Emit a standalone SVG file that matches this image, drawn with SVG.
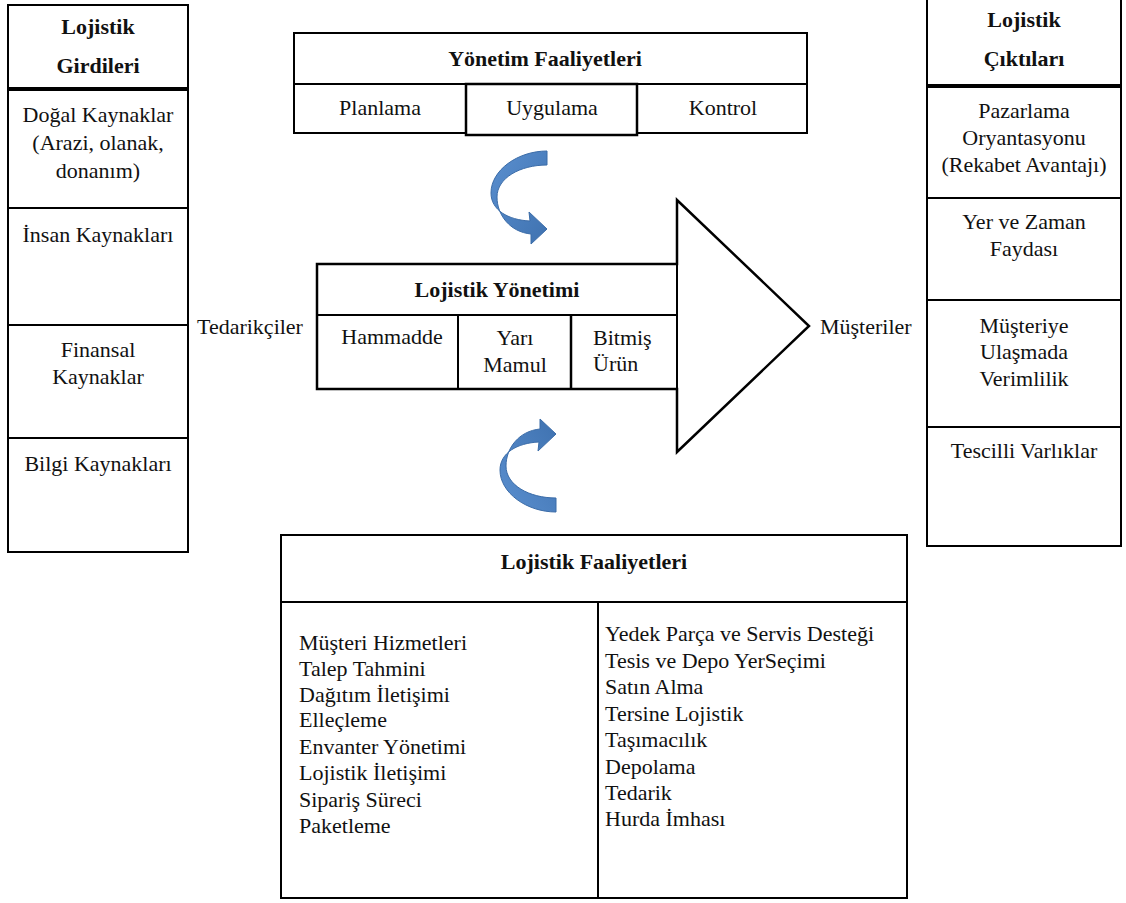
<svg xmlns="http://www.w3.org/2000/svg" width="1126" height="903" viewBox="0 0 1126 903" font-family="'Liberation Serif', 'DejaVu Serif', serif">
<style>
.b{fill:#fff;stroke:#000;stroke-width:2}
.l{stroke:#000;stroke-width:2;fill:none}
.tk{stroke:#000;stroke-width:4;fill:none}
text{font-family:'Liberation Serif','DejaVu Serif',serif;font-size:22px;fill:#111}
.c{text-anchor:middle}
.h{font-weight:bold}
.ar{fill:url(#bg);stroke:#3b6ca8;stroke-width:1}
</style>
<defs>
<linearGradient id="bg" x1="0" y1="0" x2="1" y2="1">
<stop offset="0" stop-color="#5a8fcf"/>
<stop offset="1" stop-color="#3f72b0"/>
</linearGradient>
<path id="carr" d="M547 151 C518 151 491 170 491 193 C491 210 508 220 530 221 L529 212 L547 229 L531 244 L531 234 C510 232 497 215 497 197 C497 178 520 165 547 165 Z"/>
</defs>
<rect width="1126" height="903" fill="#fff"/>

<g id="girdiler">
<rect class="b" x="8" y="5" width="180" height="547"/>
<line class="tk" x1="8" y1="89" x2="188" y2="89"/>
<line class="l" x1="8" y1="208" x2="188" y2="208"/>
<line class="l" x1="8" y1="325" x2="188" y2="325"/>
<line class="l" x1="8" y1="438" x2="188" y2="438"/>
<text class="c h" x="98" y="34">Lojistik</text>
<text class="c h" x="98" y="73">Girdileri</text>
<text class="c" x="98" y="122">Doğal Kaynaklar</text>
<text class="c" x="98" y="150">(Arazi, olanak,</text>
<text class="c" x="98" y="178">donanım)</text>
<text class="c" x="98" y="242">İnsan Kaynakları</text>
<text class="c" x="98" y="357">Finansal</text>
<text class="c" x="98" y="384">Kaynaklar</text>
<text class="c" x="98" y="471">Bilgi Kaynakları</text>
</g>

<g id="ciktilar">
<rect class="b" x="927" y="-2" width="194" height="548"/>
<line class="tk" x1="927" y1="86" x2="1121" y2="86"/>
<line class="l" x1="927" y1="198" x2="1121" y2="198"/>
<line class="l" x1="927" y1="300" x2="1121" y2="300"/>
<line class="l" x1="927" y1="427" x2="1121" y2="427"/>
<text class="c h" x="1024" y="27">Lojistik</text>
<text class="c h" x="1024" y="66">Çıktıları</text>
<text class="c" x="1024" y="118">Pazarlama</text>
<text class="c" x="1024" y="145">Oryantasyonu</text>
<text class="c" x="1024" y="172">(Rekabet Avantajı)</text>
<text class="c" x="1024" y="229">Yer ve Zaman</text>
<text class="c" x="1024" y="256">Faydası</text>
<text class="c" x="1024" y="333">Müşteriye</text>
<text class="c" x="1024" y="359">Ulaşmada</text>
<text class="c" x="1024" y="386">Verimlilik</text>
<text class="c" x="1024" y="458">Tescilli Varlıklar</text>
</g>

<g id="yonetim">
<rect class="b" x="294" y="33" width="513" height="100"/>
<line class="l" x1="294" y1="84" x2="807" y2="84"/>
<rect class="b" x="466" y="84" width="171" height="51" style="stroke-width:2.5"/>
<text class="c h" x="545" y="66">Yönetim Faaliyetleri</text>
<text class="c" x="380" y="115">Planlama</text>
<text class="c" x="552" y="115">Uygulama</text>
<text class="c" x="723" y="115">Kontrol</text>
</g>

<g id="lojistik-yonetimi">
<path class="b" style="stroke-width:2.5" d="M317 264 L677 264 L677 200 L809 326 L677 452 L677 389 L317 389 Z"/>
<line class="l" x1="317" y1="315" x2="677" y2="315"/>
<line class="l" x1="458" y1="315" x2="458" y2="389"/>
<line class="l" x1="571" y1="315" x2="571" y2="389" style="stroke-width:2.5"/>
<line class="l" x1="677" y1="264" x2="677" y2="389"/>
<text class="c h" x="497" y="297">Lojistik Yönetimi</text>
<text class="c" x="392" y="344">Hammadde</text>
<text class="c" x="515" y="345">Yarı</text>
<text class="c" x="515" y="372">Mamul</text>
<text x="593" y="345">Bitmiş</text>
<text x="593" y="371">Ürün</text>
</g>

<g id="tedarikciler"><text x="197" y="334">Tedarikçiler</text></g>
<g id="musteriler"><text x="820" y="334">Müşteriler</text></g>

<g id="faaliyetler">
<rect class="b" x="281" y="535" width="626" height="363"/>
<line class="l" x1="281" y1="602" x2="907" y2="602"/>
<line class="l" x1="598" y1="602" x2="598" y2="898"/>
<text class="c h" x="594" y="569">Lojistik Faaliyetleri</text>
<text x="299" y="650">Müşteri Hizmetleri</text>
<text x="299" y="676">Talep Tahmini</text>
<text x="299" y="702">Dağıtım İletişimi</text>
<text x="299" y="727">Elleçleme</text>
<text x="299" y="754">Envanter Yönetimi</text>
<text x="299" y="780">Lojistik İletişimi</text>
<text x="299" y="807">Sipariş Süreci</text>
<text x="299" y="833">Paketleme</text>
<text x="605" y="641">Yedek Parça ve Servis Desteği</text>
<text x="605" y="668">Tesis ve Depo YerSeçimi</text>
<text x="605" y="694">Satın Alma</text>
<text x="605" y="721">Tersine Lojistik</text>
<text x="605" y="747">Taşımacılık</text>
<text x="605" y="774">Depolama</text>
<text x="605" y="800">Tedarik</text>
<text x="605" y="826">Hurda İmhası</text>
</g>

<g id="connectors">
<use href="#carr" class="ar"/>
<use href="#carr" class="ar" transform="translate(9,663) scale(1,-1)"/>
</g>
</svg>
